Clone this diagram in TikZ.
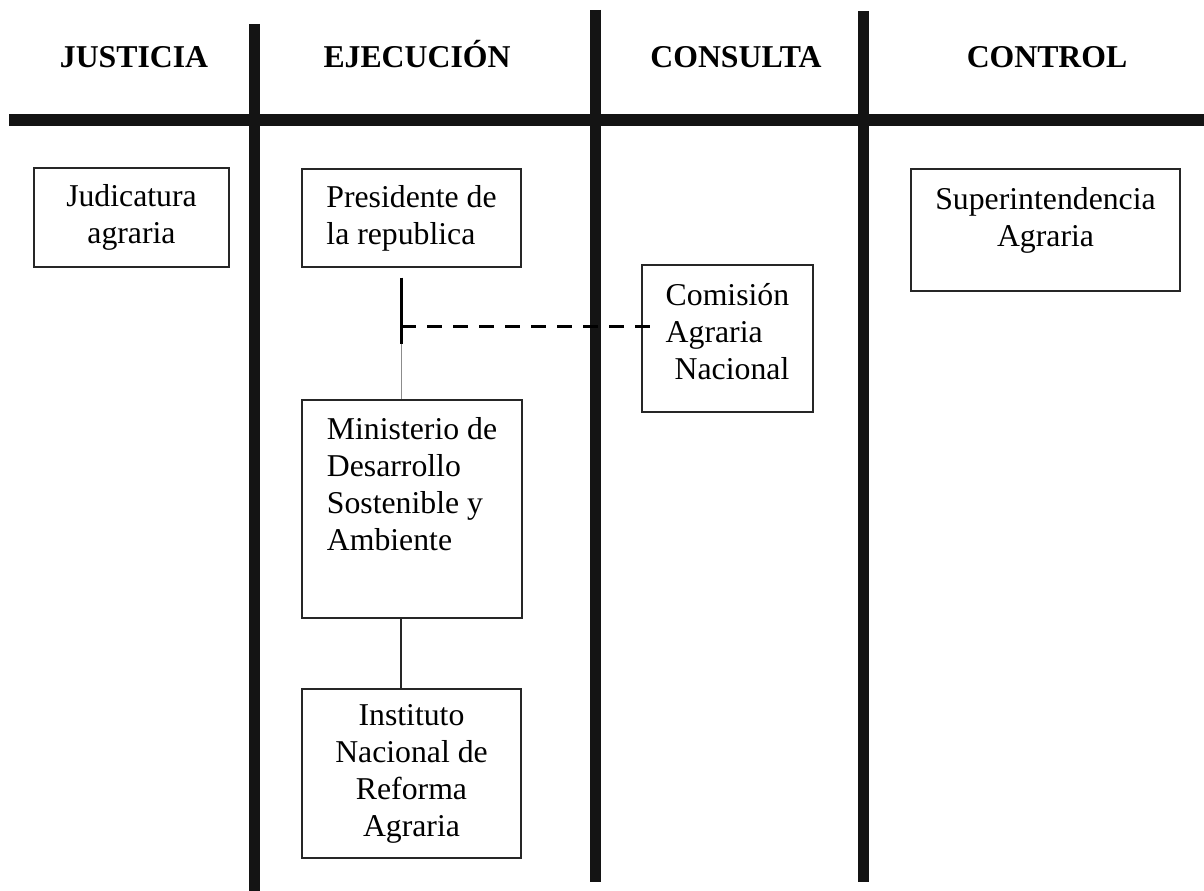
\documentclass[tikz,border=0pt]{standalone}
\usepackage{fontspec}
\setmainfont{Liberation Serif}
\usepackage{tikz}
\usetikzlibrary{calc}

\begin{document}
\begin{tikzpicture}[x=0.4pt, y=-0.4pt,
  every node/.style = {
    font=\fontsize{12.7}{14.8}\selectfont},
  head/.style = {anchor=base, font=\fontsize{12.7}{14.8}\selectfont\bfseries},
  organ/.style = {draw=black!85, line width=0.5pt, align=center},
  wall/.style = {line width=4.4pt, black!92},
  link/.style = {line width=0.5pt, black!85},
  dashlink/.style = {line width=1.2pt, dash pattern=on 6pt off 4.4pt}]
  \useasboundingbox (0,0) rectangle (1204,891);
  \draw[wall, line width=4.8pt] (9,120) -- (1204,120);
  \draw[wall] (254,24) -- (254,891);
  \draw[wall] (595,10) -- (595,882);
  \draw[wall] (863,11) -- (863,882);
  \node[head] (justicia) at (134,68) {JUSTICIA};
  \node[head] (ejecucion) at (417,68) {EJECUCIÓN};
  \node[head] (consulta) at (736,68) {CONSULTA};
  \node[head] (control) at (1047,68) {CONTROL};
  \node[organ, minimum width=78pt, minimum height=39.6pt] (judicatura) at (131.5,217.5) {Judicatura\\agraria};
  \node[organ, align=left, minimum width=87.6pt, minimum height=39.2pt] (presidente) at (411.5,218) {Presidente de\\la republica};
  \node[organ, text depth=10.7pt, minimum width=107.6pt, minimum height=48.8pt] (superintendencia) at (1045.5,230) {Superintendencia\\Agraria};
  \node[organ, align=left, text depth=5.8pt, minimum width=68.4pt, minimum height=58.8pt] (comision) at (727.5,338.5) {Comisión\\Agraria\\\hspace*{3.6pt}Nacional};
  \node[organ, align=left, text depth=20pt, minimum width=88pt, minimum height=87.2pt] (ministerio) at (412,509) {Ministerio de\\Desarrollo\\Sostenible y\\Ambiente};
  \node[organ, minimum width=87.6pt, minimum height=67.6pt] (instituto) at (411.5,773.5) {Instituto\\Nacional de\\Reforma\\Agraria};
  \coordinate (stem) at ($(presidente.south)+(-10.5,10)$);
  \coordinate (tee) at ($(stem)+(0,49)$);
  \coordinate (knee) at ($(stem)+(0,66)$);
  \draw[line width=1.2pt] (stem) -- (knee);
  \draw[line width=0.4pt, black!45] (knee) -- (knee |- ministerio.north);
  \draw[dashlink] (tee) -- ($(tee -| comision.west)+(16,0)$);
  \draw[link] (stem |- ministerio.south) -- (stem |- instituto.north);
\end{tikzpicture}
\end{document}
